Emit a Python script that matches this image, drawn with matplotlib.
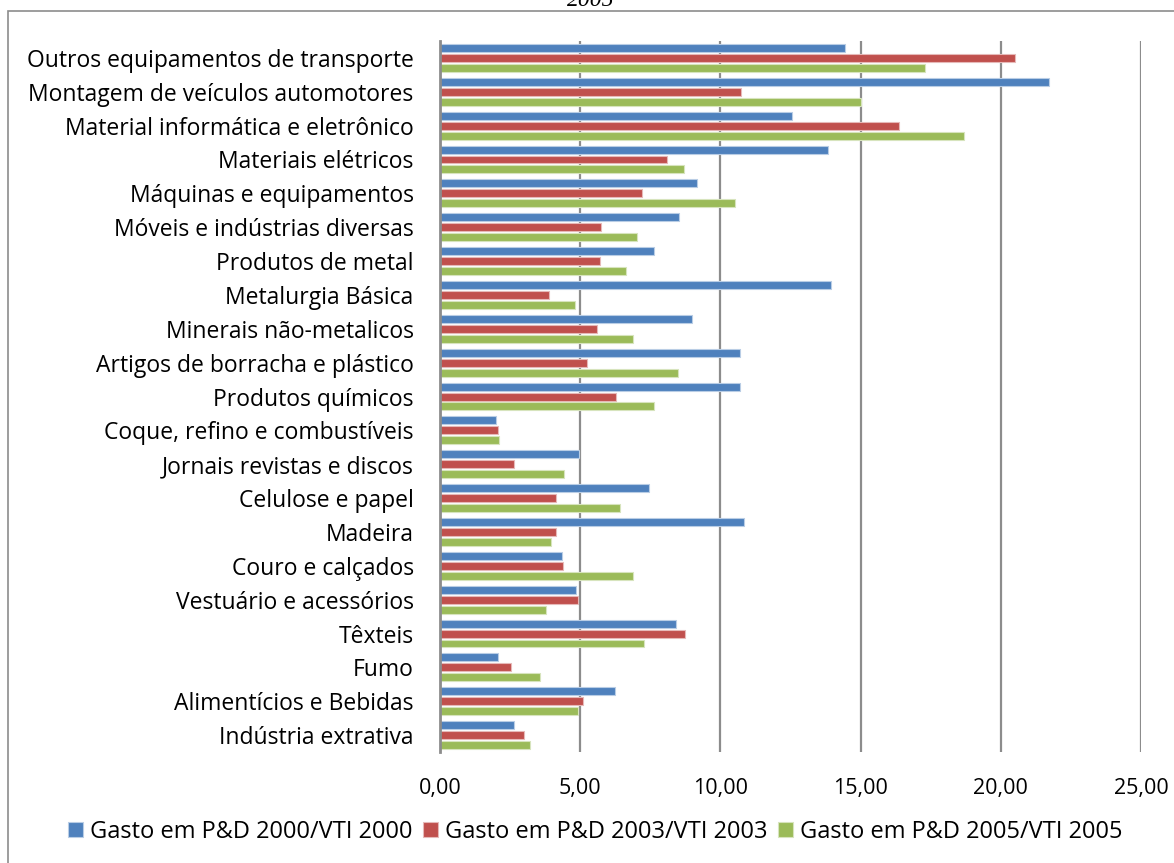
import numpy as np
import matplotlib.pyplot as plt
from matplotlib.patches import Rectangle

plt.rcParams['font.family'] = ['Open Sans', 'DejaVu Sans']

setores = ["Outros equipamentos de transporte", "Montagem de veículos automotores",
           "Material informática e eletrônico", "Materiais elétricos",
           "Máquinas e equipamentos", "Móveis e indústrias diversas",
           "Produtos de metal", "Metalurgia Básica", "Minerais não-metalicos",
           "Artigos de borracha e plástico", "Produtos químicos",
           "Coque, refino e combustíveis", "Jornais revistas e discos",
           "Celulose e papel", "Madeira", "Couro e calçados",
           "Vestuário e acessórios", "Têxteis", "Fumo",
           "Alimentícios e Bebidas", "Indústria extrativa"]

gasto_2000 = [14.45, 21.73, 12.56, 13.85, 9.16, 8.52, 7.62, 13.94, 8.98, 10.70, 10.71,
              2.00, 4.96, 7.45, 10.85, 4.34, 4.86, 8.40, 2.06, 6.24, 2.64]
gasto_2003 = [20.50, 10.72, 16.38, 8.08, 7.21, 5.73, 5.70, 3.89, 5.59, 5.23, 6.26,
              2.08, 2.64, 4.14, 4.14, 4.40, 4.92, 8.72, 2.53, 5.10, 3.01]
gasto_2005 = [17.28, 15.02, 18.67, 8.71, 10.53, 7.01, 6.64, 4.81, 6.87, 8.50, 7.63,
              2.12, 4.42, 6.41, 3.95, 6.88, 3.77, 7.29, 3.58, 4.92, 3.20]

series = [("Gasto em P&D 2000/VTI 2000", gasto_2000, "#4F81BD", "#B9CDE5"),
          ("Gasto em P&D 2003/VTI 2003", gasto_2003, "#C0504D", "#E6B9B8"),
          ("Gasto em P&D 2005/VTI 2005", gasto_2005, "#9BBB59", "#D7E4BD")]
xticks = [0, 5, 10, 15, 20, 25]

fig = plt.figure(figsize=(11.74, 8.63), dpi=100)
ax = fig.add_axes([0.3748, 0.1286, 0.5971, 0.8239])

y = np.arange(len(setores))
h = 0.236
step = 0.295
for k, (nome, vals, cor, borda) in enumerate(series):
    ax.barh(y + (k - 1) * step, vals, height=h, color=cor, edgecolor=borda,
            linewidth=0.8, label=nome, zorder=3)

ax.set_xlim(0, 25)
ax.set_ylim(20.5, -0.5)
ax.set_xticks(xticks)
ax.set_xticklabels(["{:.2f}".format(v).replace(".", ",") for v in xticks])
ax.set_yticks(y)
ax.set_yticklabels(setores)
ax.tick_params(axis='x', length=0, pad=19, labelsize=15.5)
ax.tick_params(axis='y', length=0, pad=19, labelsize=16.5)
ax.xaxis.grid(True, color='#8C8C8C', linewidth=1.6, zorder=0)
for s in ['top', 'right', 'bottom']:
    ax.spines[s].set_visible(False)
ax.spines['left'].set_color('#8C8C8C')
ax.spines['left'].set_linewidth(2)
ax.spines['left'].set_zorder(4)

leg = fig.legend(loc='center', bbox_to_anchor=(0.507, 0.036), ncol=3, frameon=False,
                 fontsize=17, handlelength=0.62, handleheight=0.62,
                 handletextpad=0.3, columnspacing=0.45)

# chart border and cut-off title
fig.patches.append(Rectangle((8 / 1174, -0.05), 1.1, 1 - 11 / 863 + 0.05,
                             transform=fig.transFigure, fill=False,
                             edgecolor='#8C8C8C', linewidth=1.2))
fig.text(0.503, 1.0, "2005", ha='center', va='center', fontsize=17,
         family='Liberation Serif', style='italic')

plt.savefig('out.png', dpi=100)
